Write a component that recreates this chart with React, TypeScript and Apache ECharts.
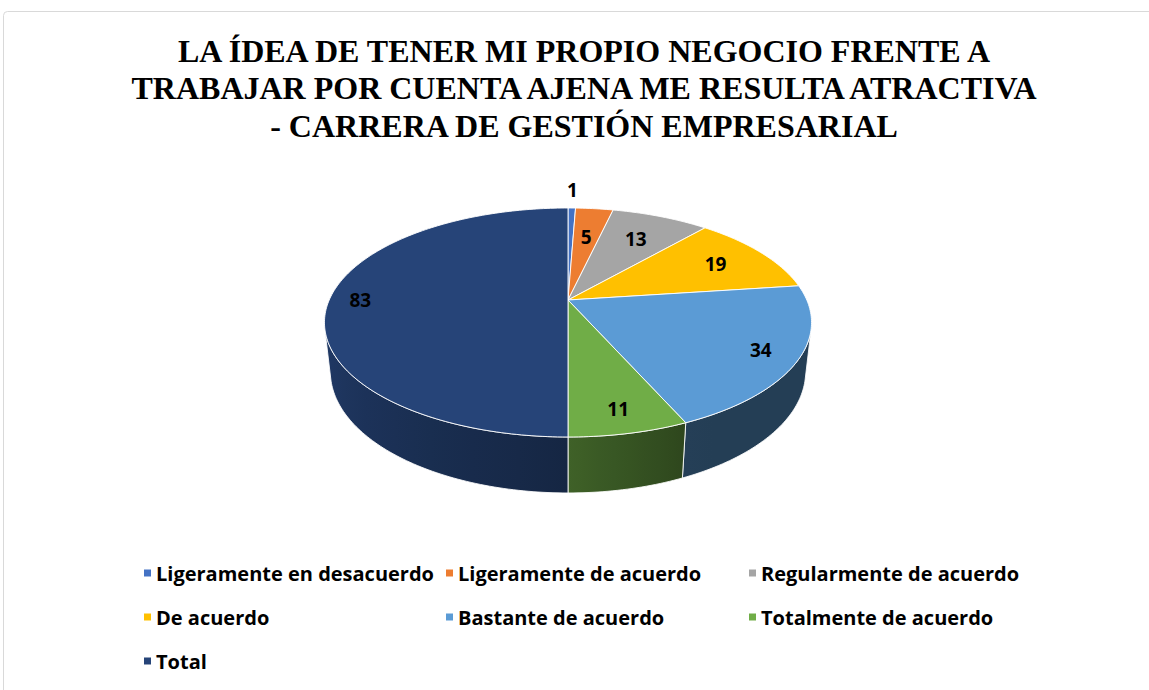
import React, { useEffect, useRef } from "react";
import * as echarts from "echarts";

// ---- data ----
const categories = [
  "Ligeramente en desacuerdo",
  "Ligeramente de acuerdo",
  "Regularmente de acuerdo",
  "De acuerdo",
  "Bastante de acuerdo",
  "Totalmente de acuerdo",
  "Total",
];
const values = [1, 5, 13, 19, 34, 11, 83];
const titleLines = [
  "LA ÍDEA DE TENER MI PROPIO NEGOCIO FRENTE A",
  "TRABAJAR POR CUENTA AJENA ME RESULTA ATRACTIVA",
  "- CARRERA DE GESTIÓN EMPRESARIAL",
];

// ---- styles / layout ----
const topColors = ["#4472C4", "#ED7D31", "#A5A5A5", "#FFC000", "#5B9BD5", "#70AD47", "#264478"];
const labelRadius = [1.25, 0.65, 0.7, 0.75, 0.85, 0.85, 0.87];
const legendColumns = [
  [0, 3, 6],
  [1, 4],
  [2, 5],
];
const legendLeft = [144, 446, 749];

const CX = 568;
const CY = 300;
const DIST = 4.516;
const FOC = 1078.4;
const PHI = (27.45 * Math.PI) / 180;
const THICK = 0.234;
const cosP = Math.cos(PHI);
const sinP = Math.sin(PHI);
const VIS1 = Math.acos(-1 / (DIST * cosP));
const VIS2 = 2 * Math.PI - VIS1;

function proj(x: number, y: number, z: number): number[] {
  const yp = y * cosP + z * sinP;
  const depth = z * cosP - y * sinP;
  const s = FOC / (DIST + depth);
  return [CX + x * s, CY - yp * s];
}
function rim(a: number, r: number, y: number): number[] {
  return proj(r * Math.sin(a), y, r * Math.cos(a));
}
function arcPts(a1: number, a2: number, r: number, y: number): number[][] {
  const n = Math.max(2, Math.ceil(((a2 - a1) * 180) / Math.PI));
  const pts: number[][] = [];
  for (let i = 0; i <= n; i++) pts.push(rim(a1 + ((a2 - a1) * i) / n, r, y));
  return pts;
}
function shadeFactor(a: number): number {
  const d = (a * 180) / Math.PI;
  if (d <= 155) return 0.4;
  if (d <= 180) return 0.4 + ((d - 155) / 25) * 0.16;
  return Math.min(0.85, 0.56 + ((d - 180) / 75) * 0.29);
}
function shade(hex: string, f: number): string {
  const n = parseInt(hex.slice(1), 16);
  const r = Math.round(((n >> 16) & 255) * f);
  const g = Math.round(((n >> 8) & 255) * f);
  const b = Math.round((n & 255) * f);
  return `rgb(${r},${g},${b})`;
}

const total = values.reduce((s, v) => s + v, 0);

function makeRender(idx: number) {
  return (params: any, api: any) => {
    const v = api.value(0) as number;
    const before = values.slice(0, idx).reduce((s, x) => s + x, 0);
    const a1 = (before / total) * 2 * Math.PI;
    const a2 = ((before + v) / total) * 2 * Math.PI;
    const base = topColors[idx];
    const children: any[] = [];

    const w1 = Math.max(a1, VIS1);
    const w2 = Math.min(a2, VIS2);
    if (w1 < w2) {
      const topArc = arcPts(w1, w2, 1, 0);
      const botArc = arcPts(w1, w2, 1, -THICK).reverse();
      const pts = topArc.concat(botArc);
      const xs = pts.map((p) => p[0]);
      const xmin = Math.min(...xs);
      const xmax = Math.max(...xs);
      const stops: any[] = [];
      const ns = 8;
      for (let i = 0; i <= ns; i++) {
        const a = w1 + ((w2 - w1) * i) / ns;
        const px = rim(a, 1, 0)[0];
        stops.push({
          offset: Math.min(1, Math.max(0, (px - xmin) / (xmax - xmin || 1))),
          color: shade(base, shadeFactor(a)),
        });
      }
      stops.sort((p, q) => p.offset - q.offset);
      children.push({
        type: "polygon",
        z2: 1,
        shape: { points: pts },
        style: {
          fill: new echarts.graphic.LinearGradient(0, 0, 1, 0, stops),
          stroke: "rgba(255,255,255,0.85)",
          lineWidth: 1,
        },
      });
    }

    const topPts = [proj(0, 0, 0)].concat(arcPts(a1, a2, 1, 0));
    children.push({
      type: "polygon",
      z2: 10,
      shape: { points: topPts },
      style: { fill: base, stroke: "rgba(255,255,255,0.9)", lineWidth: 1, lineJoin: "round" },
    });

    const mid = (a1 + a2) / 2;
    const lp = rim(mid, labelRadius[idx], 0);
    children.push({
      type: "text",
      z2: 20,
      x: lp[0],
      y: lp[1],
      style: {
        text: String(v),
        fill: "#000000",
        font: 'bold 19px "Open Sans"',
        align: "center",
        verticalAlign: "middle",
      },
    });
    return { type: "group", children };
  };
}

export default function App() {
  const ref = useRef<HTMLDivElement>(null);
  useEffect(() => {
    if (!ref.current) return;
    const chart = echarts.init(ref.current, undefined, { renderer: "svg" });
    const series = categories.map((name, i) => ({
      type: "custom",
      name,
      coordinateSystem: "none",
      silent: true,
      itemStyle: { color: topColors[i] },
      data: [values[i]],
      renderItem: makeRender(i),
    }));
    const legends = legendColumns.map((col, c) => ({
      orient: "vertical",
      left: legendLeft[c],
      top: 563,
      padding: 0,
      icon: "rect",
      itemWidth: 7,
      itemHeight: 7,
      itemGap: 24,
      selectedMode: false,
      data: col.map((i) => categories[i]),
      textStyle: {
        fontFamily: "Open Sans",
        fontWeight: "bold",
        fontSize: 20,
        lineHeight: 20,
        color: "#000000",
      },
    }));
    chart.setOption({
      animation: false,
      backgroundColor: "#ffffff",
      title: {
        text: titleLines.join("\n"),
        left: 584,
        top: 32,
        padding: 0,
        textAlign: "center",
        textStyle: {
          fontFamily: '"Liberation Serif", "Times New Roman", serif',
          fontWeight: "bold",
          fontSize: 32,
          lineHeight: 37.5,
          color: "#000000",
        },
      },
      legend: legends,
      graphic: [
        {
          type: "rect",
          x: 3.5,
          y: 11.5,
          silent: true,
          shape: { x: 0, y: 0, width: 1170, height: 700, r: 4 },
          style: { fill: "none", stroke: "#d9d9d9", lineWidth: 1 },
        },
      ],
      series,
    });
    return () => chart.dispose();
  }, []);
  return (
    <div
      ref={ref}
      style={{ position: "fixed", left: 0, top: 0, width: 1149, height: 690 }}
    />
  );
}
